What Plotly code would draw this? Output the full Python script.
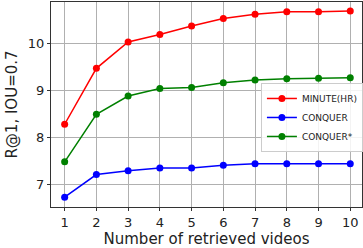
import plotly.graph_objects as go

x_vals = [1, 2, 3, 4, 5, 6, 7, 8, 9, 10]
minute_hr = [8.29, 9.48, 10.04, 10.20, 10.38, 10.54, 10.63, 10.68, 10.68, 10.70]
conquer = [6.74, 7.22, 7.30, 7.36, 7.36, 7.42, 7.45, 7.45, 7.45, 7.45]
conquer_star = [7.49, 8.50, 8.89, 9.05, 9.07, 9.17, 9.23, 9.26, 9.27, 9.28]

series = [("MINUTE(HR)", minute_hr, "#ff0000"),
          ("CONQUER", conquer, "#0000ff"),
          ("CONQUER*", conquer_star, "#008000")]

fig = go.Figure()
for name, vals, col in series:
    fig.add_trace(go.Scatter(x=x_vals, y=vals, name=name, mode="lines+markers",
                             line=dict(color=col, width=1.5),
                             marker=dict(color=col, size=7)))

font = "DejaVu Sans, sans-serif"
fig.update_layout(
    width=363, height=248,
    margin=dict(l=51, r=1, t=2, b=41, autoexpand=False),
    paper_bgcolor="white", plot_bgcolor="white",
    font=dict(family=font, color="#222"),
    showlegend=True,
    legend=dict(x=0.675, y=0.605, xanchor="left", yanchor="top",
                bgcolor="rgba(255,255,255,0.85)", bordercolor="#cccccc", borderwidth=1,
                font=dict(size=9, family=font), itemwidth=30,
                tracegroupgap=0),
)
fig.update_xaxes(range=[0.57, 10.37], tickvals=x_vals, showgrid=True, gridcolor="#b0b0b0",
                 gridwidth=1, showline=True, linecolor="#333", linewidth=1, mirror=True,
                 ticks="outside", ticklen=3, tickcolor="#333", zeroline=False,
                 tickfont=dict(size=13), automargin=False,
                 title=dict(text="Number of retrieved videos", font=dict(size=15), standoff=0))
fig.update_yaxes(range=[6.53, 10.89], tickvals=[7, 8, 9, 10], showgrid=True, gridcolor="#b0b0b0",
                 gridwidth=1, showline=True, linecolor="#333", linewidth=1, mirror=True,
                 ticks="outside", ticklen=3, tickcolor="#333", zeroline=False,
                 tickfont=dict(size=13), automargin=False,
                 title=dict(text="R@1, IOU=0.7", font=dict(size=15), standoff=6))

fig.write_html("out.html", config={"displayModeBar": False},
               post_script="document.body.style.margin='0';document.body.style.overflow='hidden';")
